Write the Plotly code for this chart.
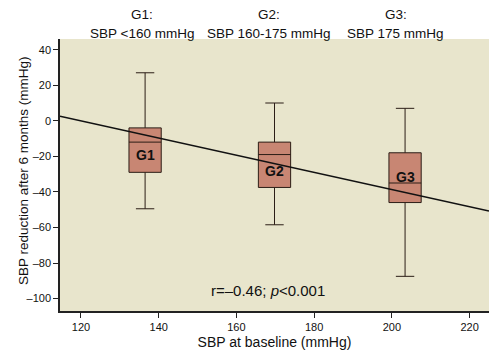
import plotly.graph_objects as go

groups = ["G1", "G2", "G3"]
centers = [136.5, 169.8, 203.4]
upper_whisker = [27, 10, 7]
q3 = [-4, -12, -18]
median = [-12, -19, -35]
q1 = [-29, -37.5, -46]
lower_whisker = [-49.5, -58.5, -87.5]
label_y = [-19.5, -28, -31.5]
header_x = [135.7, 168.3, 201.0]
header_titles = ["G1:", "G2:", "G3:"]
header_sub = ["SBP <160 mmHg", "SBP 160-175 mmHg", "SBP 175 mmHg"]
line_x = [114.6, 225]
reg_slope = -0.483
reg_at_120 = 0.0
xticks = [120, 140, 160, 180, 200, 220]
yticks = [40, 20, 0, -20, -40, -60, -80, -100]

line_y = [reg_at_120 + reg_slope * (x - 120) for x in line_x]

fig = go.Figure()
fig.add_trace(go.Scatter(x=line_x, y=line_y, mode="lines",
                         line=dict(color="#111111", width=1.5), showlegend=False, hoverinfo="skip"))
for i, g in enumerate(groups):
    fig.add_trace(go.Box(
        x=[centers[i]], q1=[q1[i]], median=[median[i]], q3=[q3[i]],
        lowerfence=[lower_whisker[i]], upperfence=[upper_whisker[i]],
        width=8.3, whiskerwidth=0.57, fillcolor="#C88673",
        line=dict(color="#2b1d16", width=1), showlegend=False, boxpoints=False))

sans = "Liberation Sans, Arial, sans-serif"
for i, g in enumerate(groups):
    fig.add_annotation(x=centers[i], y=label_y[i], text="<b>%s</b>" % g, showarrow=False,
                       font=dict(family=sans, size=14, color="#111111"))
    fig.add_annotation(x=header_x[i], y=1.0, yref="paper", yanchor="middle", yshift=25,
                       text=header_titles[i], showarrow=False,
                       font=dict(family=sans, size=13.5, color="#111111"))
    fig.add_annotation(x=header_x[i], y=1.0, yref="paper", yanchor="middle", yshift=6,
                       text=header_sub[i], showarrow=False,
                       font=dict(family=sans, size=13.5, color="#111111"))

fig.add_annotation(x=168, y=-95.5, text="r=\u20130.46; <i>p</i><0.001", showarrow=False,
                   font=dict(family=sans, size=15, color="#111111"))

fig.add_annotation(x=0, xref="paper", xanchor="center", xshift=-37,
                   y=0.5, yref="paper", yanchor="middle", yshift=4, textangle=-90,
                   text="SBP reduction after 6 months (mmHg)", showarrow=False,
                   font=dict(family=sans, size=13.5, color="#111111"))

fig.update_layout(
    width=502, height=360, margin=dict(l=60, r=13, t=39, b=42),
    paper_bgcolor="white", plot_bgcolor="#E8E5CC",
    font=dict(family=sans, color="#111111"),
    xaxis=dict(range=[114.6, 225], tickvals=xticks, showgrid=False, zeroline=False,
               showline=True, linecolor="#222222", linewidth=1.5, ticks="outside", ticklen=5,
               tickcolor="#222222", tickfont=dict(family=sans, size=11),
               title=dict(text="SBP at baseline (mmHg)", font=dict(size=14), standoff=5)),
    yaxis=dict(range=[-107, 46], tickvals=yticks, ticktext=[str(v).replace("-", "\u2013") for v in yticks],
               showgrid=False, zeroline=False,
               showline=True, linecolor="#222222", linewidth=1.5, ticks="outside", ticklen=5,
               tickcolor="#222222", tickfont=dict(family=sans, size=11)),
)
fig.write_html("out.html")
